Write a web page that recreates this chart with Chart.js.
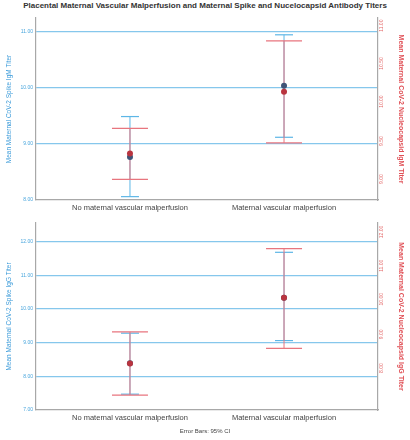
<!DOCTYPE html>
<html>
<head>
<meta charset="utf-8">
<script src="https://cdn.jsdelivr.net/npm/chart.js@4.4.1/dist/chart.umd.min.js"></script>
<style>
  html, body { margin: 0; padding: 0; background: #fff; }
  body { width: 410px; height: 440px; position: relative; overflow: hidden; font-family: "Liberation Sans", Arial, sans-serif; }
  #title { position: absolute; left: 0; top: 1px; width: 410px; text-align: center; font-size: 8px; font-weight: bold; color: #333; }
  #foot { position: absolute; left: 0; top: 428px; width: 410px; text-align: center; font-size: 6px; color: #444; }
  .box { position: absolute; left: 0; width: 410px; }
</style>
</head>
<body>
<div id="title">Placental Maternal Vascular Malperfusion and Maternal Spike and Nucelocapsid Antibody Titers</div>
<div class="box" style="top:0;height:222px"><canvas id="igm"></canvas></div>
<div class="box" style="top:214px;height:226px"><canvas id="igg"></canvas></div>
<div id="foot">Error Bars: 95% CI</div>
<script>
// categories on the x axis
const categories = ['No maternal vascular malperfusion', 'Maternal vascular malperfusion'];

// IgM panel (left axis: spike, right axis: nucleocapsid)
const igmSpikeMean = [8.77, 10.04];
const igmSpikeLow = [8.06, 9.12];
const igmSpikeHigh = [9.49, 10.95];
const igmNucMean = [9.40, 10.21];
const igmNucLow = [9.06, 9.54];
const igmNucHigh = [9.73, 10.88];
const igmSpikeTicks = [8, 9, 10, 11];
const igmNucTicks = [9, 9.5, 10, 10.5, 11];

// IgG panel
const iggSpikeMean = [8.39, 10.33];
const iggSpikeLow = [7.47, 9.06];
const iggSpikeHigh = [9.28, 11.68];
const iggNucMean = [8.28, 10.23];
const iggNucLow = [7.34, 8.73];
const iggNucHigh = [9.22, 11.69];
const iggSpikeTicks = [7, 8, 9, 10, 11, 12];
const iggNucTicks = [8, 9, 10, 11, 12];

const FONT = 'Liberation Sans';
const BLUE = '#5db6e6';
const RED = '#e8757e';
const GRID = '#86c7ec';
const AXIS = '#a8a8a8';

// stems: one segment per category, broken by a null point
function stems(lo, hi) {
  const out = [];
  lo.forEach((v, i) => {
    out.push({ x: i, y: v }, { x: i, y: hi[i] }, { x: i, y: null });
  });
  return out;
}
function pts(vals) {
  return vals.map((v, i) => ({ x: i, y: v }));
}
function caps(lo, hi) {
  return pts(lo).concat(pts(hi));
}

// chart.js paints the first dataset on top
function dots(mean, axis, color) {
  return { type: 'scatter', data: pts(mean), yAxisID: axis, pointStyle: 'circle',
    pointRadius: 3, backgroundColor: color, borderColor: color, borderWidth: 0 };
}
function bars(lo, hi, axis, color, capR) {
  return [
    { type: 'scatter', data: caps(lo, hi), yAxisID: axis, pointStyle: 'line',
      pointRadius: capR, borderColor: color, borderWidth: 1.2, pointHoverRadius: capR },
    { type: 'scatter', data: stems(lo, hi), yAxisID: axis, showLine: true, spanGaps: false,
      borderColor: color, borderWidth: 1, pointRadius: 0 }
  ];
}

function noPad(s) {
  s.paddingTop = 0; s.paddingBottom = 0; s.paddingLeft = 0; s.paddingRight = 0;
}

function makeChart(id, cfg) {
  const leftTicks = cfg.leftTicks, rightTicks = cfg.rightTicks;
  return new Chart(document.getElementById(id), {
    type: 'scatter',
    data: {
      datasets: [
        dots(cfg.nMean, 'y2', '#b9343f'),
        dots(cfg.sMean, 'y', '#3f5478'),
        ...bars(cfg.nLow, cfg.nHigh, 'y2', RED, 18),
        ...bars(cfg.sLow, cfg.sHigh, 'y', BLUE, 9)
      ]
    },
    options: {
      responsive: true,
      maintainAspectRatio: false,
      animation: false,
      layout: { autoPadding: false, padding: { top: cfg.padTop, left: 0, right: 0, bottom: 0 } },
      plugins: { legend: { display: false }, tooltip: { enabled: false } },
      scales: {
        x: {
          type: 'linear', min: -0.61, max: 1.61,
          afterBuildTicks: (s) => { s.ticks = categories.map((c, i) => ({ value: i })); },
          afterFit: (s) => { s.height = cfg.xHeight; noPad(s); },
          ticks: { callback: (v) => categories[v], font: { family: FONT, size: 7.5 }, color: '#444', padding: 3, maxRotation: 0 },
          grid: { display: false, drawTicks: false },
          border: { color: AXIS, width: 1.2 }
        },
        y: {
          position: 'left', min: cfg.leftMin, max: cfg.leftMax,
          afterBuildTicks: (s) => { s.ticks = leftTicks.map((v) => ({ value: v })); },
          afterFit: (s) => { s.width = 36; noPad(s); },
          ticks: { callback: (v) => v.toFixed(2), font: { family: FONT, size: 5 }, color: '#4aa6dd', padding: 3 },
          grid: { color: (c) => (c.tick && c.tick.value === cfg.leftMin ? 'rgba(0,0,0,0)' : GRID), lineWidth: 1.3, drawTicks: false },
          border: { color: AXIS, width: 1.2 },
          title: { display: true, text: cfg.leftTitle, color: '#3a9ad9', font: { family: FONT, size: 6.5 }, padding: { top: 5, bottom: 0 } }
        },
        y2: {
          position: 'right', min: cfg.rightMin, max: cfg.rightMax,
          afterBuildTicks: (s) => { s.ticks = rightTicks.map((v) => ({ value: v })); },
          afterFit: (s) => { s.width = 32; noPad(s); },
          ticks: { callback: (v) => v.toFixed(2), font: { family: FONT, size: 5 }, color: '#e46a6a', padding: 4, minRotation: 90, maxRotation: 90 },
          grid: { display: false, drawTicks: false },
          border: { color: AXIS, width: 1.2 },
          title: { display: true, text: cfg.rightTitle, color: '#e04f55', font: { family: FONT, size: 7, weight: 'bold' }, padding: { top: 5, bottom: 0 } }
        }
      }
    }
  });
}

makeChart('igm', {
  sMean: igmSpikeMean, sLow: igmSpikeLow, sHigh: igmSpikeHigh,
  nMean: igmNucMean, nLow: igmNucLow, nHigh: igmNucHigh,
  leftTicks: igmSpikeTicks, rightTicks: igmNucTicks,
  leftMin: 8, leftMax: 11.25, rightMin: 8.79, rightMax: 11.18,
  leftTitle: 'Mean Maternal CoV-2 Spike IgM Titer',
  rightTitle: 'Mean Maternal CoV-2 Nucleocapsid IgM Titer',
  padTop: 18, xHeight: 22
});

makeChart('igg', {
  sMean: iggSpikeMean, sLow: iggSpikeLow, sHigh: iggSpikeHigh,
  nMean: iggNucMean, nLow: iggNucLow, nHigh: iggNucHigh,
  leftTicks: iggSpikeTicks, rightTicks: iggNucTicks,
  leftMin: 7, leftMax: 12.55, rightMin: 6.9, rightMax: 12.45,
  leftTitle: 'Mean Maternal CoV-2 Spike IgG Titer',
  rightTitle: 'Mean Maternal CoV-2 Nucleocapsid IgG Titer',
  padTop: 9, xHeight: 30
});
</script>
</body>
</html>
